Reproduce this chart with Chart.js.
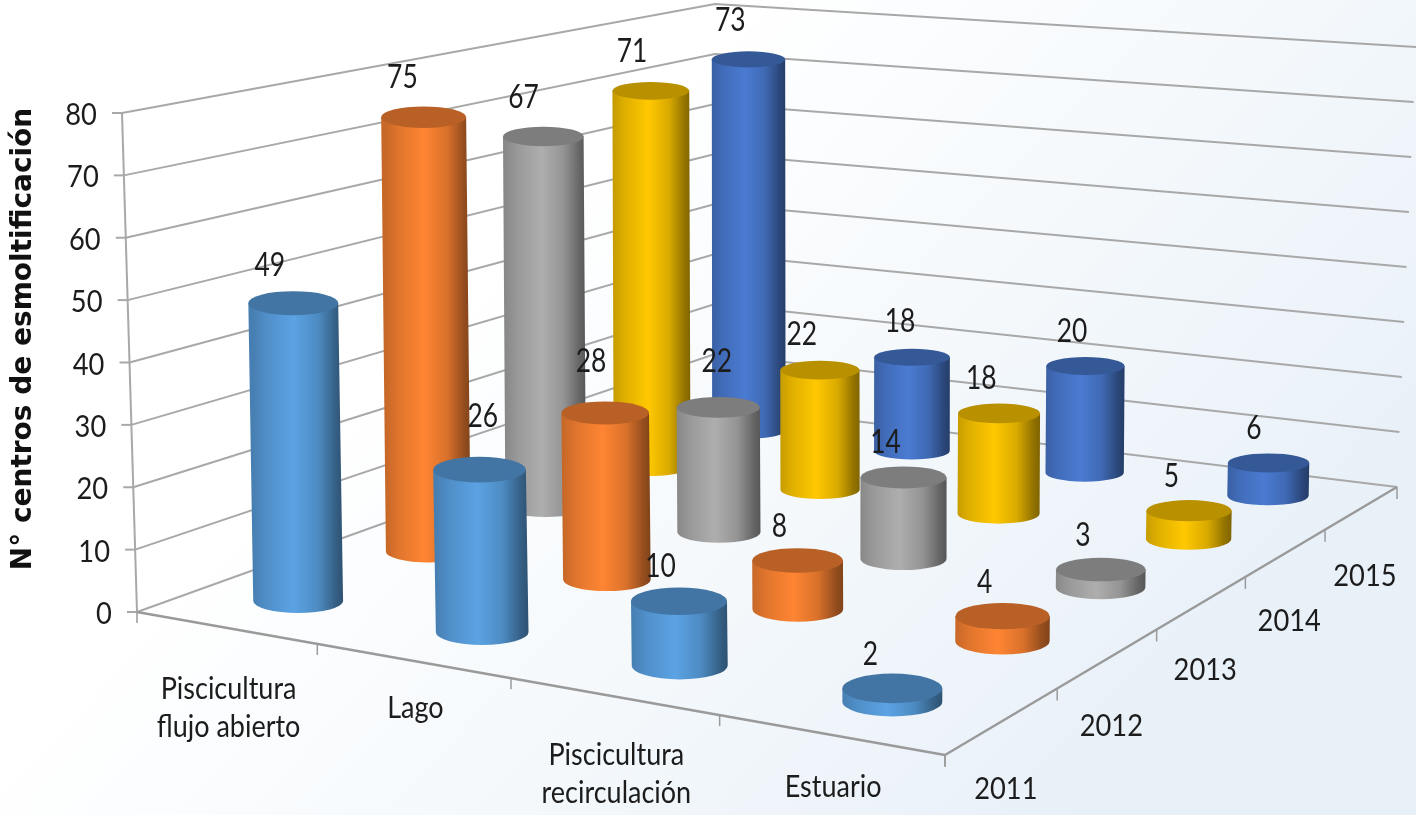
<!DOCTYPE html>
<html>
<head>
<meta charset="utf-8">
<script src="https://cdn.jsdelivr.net/npm/chart.js@4"></script>
<style>
  html, body { margin: 0; padding: 0; background: #fff; }
  canvas { display: block; }
</style>
</head>
<body>
<canvas id="chart" width="1416" height="815"></canvas>
<script>
const categories = [['Piscicultura', 'flujo abierto'], ['Lago'], ['Piscicultura', 'recirculación'], ['Estuario']];
const years = ['2011', '2012', '2013', '2014', '2015'];
const values2011 = [49, 26, 10, 2];
const values2012 = [75, 28, 8, 4];
const values2013 = [67, 22, 14, 3];
const values2014 = [71, 22, 18, 5];
const values2015 = [73, 18, 20, 6];
const yTicks = [0, 10, 20, 30, 40, 50, 60, 70, 80];
const yTitle = 'N° centros de esmoltificación';

const seriesValues = [values2011, values2012, values2013, values2014, values2015];
const seriesColors = ['#5ba3e4', '#ff8533', '#aeaeae', '#ffc800', '#4a7bd2'];

// Corners of the 3D box on screen: front-left, front-right, back-right, back-left
const floorQuad = [[137, 612], [945, 755], [1397, 487], [715, 404]];
const ceilQuad = [[122, 113], [948, 195], [1416, 47], [715, 4]];

function quadMap(q) {
    const [p0, p1, p2, p3] = q;
    const dx1 = p1[0] - p2[0], dx2 = p3[0] - p2[0], sx = p0[0] - p1[0] + p2[0] - p3[0];
    const dy1 = p1[1] - p2[1], dy2 = p3[1] - p2[1], sy = p0[1] - p1[1] + p2[1] - p3[1];
    const det = dx1 * dy2 - dx2 * dy1;
    const g = (sx * dy2 - dx2 * sy) / det;
    const h = (dx1 * sy - sx * dy1) / det;
    const a = p1[0] - p0[0] + g * p1[0], b = p3[0] - p0[0] + h * p3[0];
    const d = p1[1] - p0[1] + g * p1[1], e = p3[1] - p0[1] + h * p3[1];
    return (u, v) => {
        const w = g * u + h * v + 1;
        return [(a * u + b * v + p0[0]) / w, (d * u + e * v + p0[1]) / w];
    };
}
const floorMap = quadMap(floorQuad);
const ceilMap = quadMap(ceilQuad);

function project(u, v, w) {
    const f = floorMap(u, v), c = ceilMap(u, v);
    return [f[0] + (c[0] - f[0]) * w, f[1] + (c[1] - f[1]) * w];
}

function shade(hex, k) {
    const n = parseInt(hex.slice(1), 16);
    const ch = [n >> 16, (n >> 8) & 255, n & 255].map(c => Math.min(255, Math.round(c * k)));
    return `rgb(${ch[0]},${ch[1]},${ch[2]})`;
}

function drawText(ctx, str, x, y, size, squeeze) {
    ctx.save();
    ctx.translate(x, y);
    ctx.scale(squeeze, 1);
    ctx.font = `${size}px Lato, "Open Sans", sans-serif`;
    ctx.fillStyle = '#1c1c1c';
    ctx.textAlign = 'center';
    ctx.textBaseline = 'middle';
    ctx.fillText(str, 0, 0);
    ctx.restore();
}

function line(ctx, a, b) {
    ctx.beginPath();
    ctx.moveTo(a[0], a[1]);
    ctx.lineTo(b[0], b[1]);
    ctx.stroke();
}

function frac(scale, value) {
    return scale.getDecimalForPixel(scale.getPixelForValue(value));
}

const RADIUS = 0.2; // bar radius, share of a floor cell
const BAR_SCALE = 0.985; // bars sit a little short of the wall gridlines
const BAR_TILT = 0.6; // bars lean less than the walls do
const catLabelDy = [62, 48, 59, 53];
const labelNudges = {
    '0,0': [-2, 0], '0,1': [23, -17], '0,3': [-4, 0], '1,1': [5, -16], '2,1': [17, -11],
    '4,1': [6, -1], '4,2': [4, 0], '4,3': [3, -1],
};

const box3d = {
    id: 'box3d',
    beforeDraw(chart) {
        const ctx = chart.ctx;
        const bg = ctx.createLinearGradient(420, 330, 1000, 900);
        bg.addColorStop(0, '#ffffff');
        bg.addColorStop(0.45, '#f5f9fc');
        bg.addColorStop(1, '#e8f0f8');
        ctx.fillStyle = bg;
        ctx.fillRect(0, 0, chart.width, chart.height);
    },
    afterDatasetsDraw(chart) {
        const ctx = chart.ctx;
        const { x, y, depth } = chart.scales;
        ctx.save();

        // walls
        ctx.strokeStyle = '#a8a8a8';
        ctx.lineWidth = 2;
        yTicks.forEach(t => {
            const w = frac(y, t);
            const a = project(0, 0, w), b = project(0, 1, w), c = project(1, 1, w);
            ctx.beginPath();
            ctx.moveTo(a[0], a[1]);
            ctx.lineTo(b[0], b[1]);
            ctx.lineTo(c[0], c[1]);
            ctx.stroke();
            line(ctx, a, [a[0] - 10, a[1]]);
            drawText(ctx, String(t), a[0] - 41 + (t === 0 ? 8 : 0), a[1] + 2, 31, 0.88);
        });
        line(ctx, project(0, 0, 0), project(0, 0, 1));

        // floor edges and tick marks
        ctx.strokeStyle = '#9a9a9a';
        ctx.lineWidth = 2.5;
        line(ctx, project(0, 0, 0), project(1, 0, 0));
        line(ctx, project(1, 0, 0), project(1, 1, 0));
        ctx.lineWidth = 1.5;
        categories.concat([null]).forEach((c, i) => {
            const p = project(frac(x, i), 0, 0);
            line(ctx, p, [p[0], p[1] + 11]);
        });
        years.concat([null]).forEach((c, i) => {
            const p = project(1, frac(depth, i), 0);
            line(ctx, p, [p[0], p[1] + 12]);
        });

        // cylinders, back row first
        for (let row = years.length - 1; row >= 0; row--) {
            seriesValues[row].forEach((val, col) => {
                drawCylinder(ctx, frac(x, col + 0.5), frac(depth, row + 0.5), frac(y, val) * BAR_SCALE,
                    frac(x, RADIUS) - frac(x, 0), frac(depth, RADIUS) - frac(depth, 0), seriesColors[row]);
            });
        }

        // value labels
        seriesValues.forEach((vals, row) => {
            vals.forEach((val, col) => {
                const p = project(frac(x, col + 0.5), frac(depth, row + 0.5), frac(y, val));
                const n = labelNudges[row + ',' + col] || [0, 0];
                drawText(ctx, String(val), p[0] - 16 + n[0], p[1] - 33.5 + n[1], 33, 0.8);
            });
        });

        // category and year labels
        categories.forEach((lines, i) => {
            const p = project(frac(x, i + 0.5), 0, 0);
            lines.forEach((txt, k) => drawText(ctx, txt, p[0] + 3, p[1] + catLabelDy[i] + k * 38, 30, 0.9));
        });
        years.forEach((yr, i) => {
            const p = project(1, frac(depth, i + 0.5), 0);
            drawText(ctx, yr, p[0] + 3, p[1] + 68, 31, 0.88);
        });

        // axis title
        ctx.save();
        ctx.translate(24, 339);
        ctx.rotate(-Math.PI / 2);
        ctx.font = 'bold 28px "DejaVu Sans", sans-serif';
        ctx.fillStyle = '#111';
        ctx.textAlign = 'center';
        ctx.textBaseline = 'middle';
        ctx.fillText(yTitle, 0, 0);
        ctx.restore();

        ctx.restore();
    }
};

function drawCylinder(ctx, u, v, w, ru, rv, color) {
    const base = project(u, v, 0);
    const top = project(u, v, w);
    top[0] = base[0] + (top[0] - base[0]) * BAR_TILT + 2;
    base[0] += 2;
    const ua = project(u - ru, v, 0), ub = project(u + ru, v, 0);
    const va = project(u, v - rv, 0), vb = project(u, v + rv, 0);
    const rx = Math.hypot((ub[0] - ua[0]) / 2, (vb[0] - va[0]) / 2);
    const ry = Math.hypot((ub[1] - ua[1]) / 2, (vb[1] - va[1]) / 2);

    const grad = ctx.createLinearGradient(base[0] - rx, 0, base[0] + rx, 0);
    grad.addColorStop(0, shade(color, 0.78));
    grad.addColorStop(0.15, shade(color, 0.88));
    grad.addColorStop(0.45, shade(color, 1));
    grad.addColorStop(0.72, shade(color, 0.85));
    grad.addColorStop(0.92, shade(color, 0.58));
    grad.addColorStop(1, shade(color, 0.5));

    ctx.beginPath();
    ctx.moveTo(top[0] - rx, top[1]);
    ctx.lineTo(base[0] - rx, base[1]);
    ctx.ellipse(base[0], base[1], rx, ry, 0, Math.PI, 0, true);
    ctx.lineTo(top[0] + rx, top[1]);
    ctx.closePath();
    ctx.fillStyle = grad;
    ctx.fill();

    ctx.beginPath();
    ctx.ellipse(top[0], top[1], rx, ry, 0, 0, Math.PI * 2);
    ctx.fillStyle = shade(color, 0.72);
    ctx.fill();
}

new Chart(document.getElementById('chart'), {
    type: 'scatter',
    data: {
        datasets: years.map((yr, row) => ({
            label: yr,
            data: seriesValues[row].map((val, col) => ({ x: col + 0.5, y: val })),
            pointRadius: 0,
            showLine: false,
        })),
    },
    options: {
        responsive: false,
        animation: false,
        events: [],
        plugins: { legend: { display: false }, tooltip: { enabled: false } },
        scales: {
            x: { type: 'linear', min: 0, max: categories.length, display: false },
            y: { type: 'linear', min: 0, max: 80, display: false },
            depth: { type: 'linear', axis: 'x', min: 0, max: years.length, display: false },
        },
    },
    plugins: [box3d],
});
</script>
</body>
</html>
